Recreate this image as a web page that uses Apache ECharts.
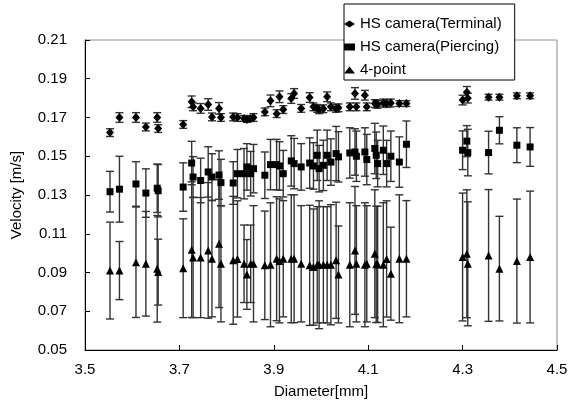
<!DOCTYPE html>
<html>
<head>
<meta charset="utf-8">
<script src="https://cdn.jsdelivr.net/npm/echarts@6/dist/echarts.min.js"></script>
<style>
html, body { margin: 0; padding: 0; background: #fff; }
#main { width: 575px; height: 405px; }
</style>
</head>
<body>
<div id="main"></div>
<script>
// diameters [mm], one entry per measured drop
var diameter = [3.553, 3.573, 3.608, 3.629, 3.653, 3.655, 3.708, 3.726, 3.729, 3.745,
  3.761, 3.769, 3.784, 3.788, 3.814, 3.823, 3.837, 3.843, 3.851, 3.857,
  3.881, 3.893, 3.906, 3.912, 3.920, 3.937, 3.943, 3.958, 3.976, 3.984,
  3.992, 3.996, 4.005, 4.013, 4.021, 4.032, 4.037, 4.061, 4.072, 4.075,
  4.093, 4.097, 4.114, 4.117, 4.120, 4.132, 4.139, 4.148, 4.166, 4.181,
  4.300, 4.309, 4.311, 4.355, 4.378, 4.415, 4.443];

// HS camera (Terminal) velocity and error
var terminal = [0.1622, 0.1700, 0.1700, 0.1651, 0.1700, 0.1643, 0.1664, 0.1781, 0.1755, 0.1747,
  0.1767, 0.1703, 0.1747, 0.1700, 0.1703, 0.1700, 0.1695, 0.1690, 0.1695, 0.1700,
  0.1729, 0.1786, 0.1720, 0.1807, 0.1741, 0.1798, 0.1824, 0.1747, 0.1803, 0.1755,
  0.1747, 0.1740, 0.1745, 0.1807, 0.1755, 0.1747, 0.1750, 0.1755, 0.1824, 0.1755,
  0.1815, 0.1755, 0.1772, 0.1770, 0.1768, 0.1775, 0.1772, 0.1775, 0.1772, 0.1772,
  0.1790, 0.1830, 0.1800, 0.1805, 0.1805, 0.1812, 0.1812];
var terminalErr = [0.0020, 0.0025, 0.0025, 0.0020, 0.0025, 0.0020, 0.0020, 0.0030, 0.0020, 0.0025,
  0.0030, 0.0020, 0.0030, 0.0020, 0.0020, 0.0020, 0.0015, 0.0015, 0.0015, 0.0020,
  0.0020, 0.0030, 0.0020, 0.0030, 0.0020, 0.0025, 0.0025, 0.0020, 0.0025, 0.0020,
  0.0020, 0.0020, 0.0020, 0.0025, 0.0020, 0.0020, 0.0020, 0.0020, 0.0030, 0.0020,
  0.0025, 0.0020, 0.0020, 0.0020, 0.0020, 0.0020, 0.0020, 0.0020, 0.0015, 0.0015,
  0.0025, 0.0030, 0.0025, 0.0015, 0.0015, 0.0015, 0.0015];

// HS camera (Piercing)
var piercing = [0.1317, 0.1330, 0.1357, 0.1310, 0.1335, 0.1322, 0.1341, 0.1465, 0.1393, 0.1375,
  0.1419, 0.1393, 0.1403, 0.1364, 0.1362, 0.1410, 0.1410, 0.1445, 0.1410, 0.1436,
  0.1402, 0.1457, 0.1457, 0.1450, 0.1410, 0.1476, 0.1462, 0.1445, 0.1465, 0.1450,
  0.1505, 0.1436, 0.1453, 0.1505, 0.1470, 0.1514, 0.1497, 0.1517, 0.1522, 0.1500,
  0.1522, 0.1483, 0.1540, 0.1505, 0.1462, 0.1531, 0.1462, 0.1500, 0.1470, 0.1562,
  0.1531, 0.1578, 0.1519, 0.1519, 0.1634, 0.1557, 0.1548];
var piercingErr = [0.0105, 0.0170, 0.0115, 0.0125, 0.0125, 0.0135, 0.0125, 0.0112, 0.0105, 0.0115,
  0.0130, 0.0120, 0.0125, 0.0120, 0.0110, 0.0125, 0.0130, 0.0120, 0.0115, 0.0125,
  0.0120, 0.0130, 0.0130, 0.0125, 0.0120, 0.0130, 0.0130, 0.0120, 0.0130, 0.0120,
  0.0130, 0.0120, 0.0130, 0.0130, 0.0120, 0.0140, 0.0130, 0.0130, 0.0120, 0.0130,
  0.0125, 0.0130, 0.0130, 0.0120, 0.0120, 0.0125, 0.0120, 0.0130, 0.0130, 0.0120,
  0.0100, 0.0080, 0.0120, 0.0110, 0.0070, 0.0090, 0.0100];

// 4-point
var fourPoint = [0.0910, 0.0910, 0.0953, 0.0945, 0.0919, 0.0902, 0.0922, 0.1018, 0.0977, 0.0977,
  0.1014, 0.0971, 0.1049, 0.0945, 0.0963, 0.0970, 0.0945, 0.0890, 0.0945, 0.0945,
  0.0937, 0.0940, 0.0971, 0.0960, 0.0971, 0.0971, 0.0971, 0.0945, 0.0937, 0.0928,
  0.0940, 0.0940, 0.0940, 0.0940, 0.0940, 0.0963, 0.0890, 0.0940, 0.1014, 0.0945,
  0.0940, 0.0945, 0.0997, 0.0942, 0.0942, 0.0940, 0.0970, 0.0894, 0.0971, 0.0971,
  0.0980, 0.0997, 0.0945, 0.0988, 0.0920, 0.0959, 0.0980];
var fourPointErr = [0.0250, 0.0150, 0.0285, 0.0270, 0.0275, 0.0170, 0.0255, 0.0350, 0.0310, 0.0310,
  0.0350, 0.0300, 0.0330, 0.0300, 0.0330, 0.0300, 0.0200, 0.0180, 0.0200, 0.0300,
  0.0280, 0.0320, 0.0320, 0.0320, 0.0300, 0.0330, 0.0330, 0.0300, 0.0310, 0.0300,
  0.0300, 0.0330, 0.0300, 0.0300, 0.0310, 0.0300, 0.0250, 0.0320, 0.0330, 0.0300,
  0.0320, 0.0300, 0.0330, 0.0300, 0.0300, 0.0320, 0.0300, 0.0240, 0.0330, 0.0300,
  0.0330, 0.0330, 0.0320, 0.0340, 0.0270, 0.0320, 0.0340];

var seriesNames = ['HS camera(Terminal)', 'HS camera(Piercing)', '4-point'];

var font = 'Liberation Sans, Arial, sans-serif';

// pairs [x, y]
function points(vals) {
  return diameter.map(function (d, i) { return [d, vals[i]]; });
}

// vertical error bar with caps
function errorBars(vals, errs) {
  return {
    type: 'custom',
    silent: true,
    z: 2,
    renderItem: function (params, api) {
      var x = api.value(0);
      var top = api.coord([x, api.value(2)]);
      var bot = api.coord([x, api.value(1)]);
      var w = 4;
      var st = { stroke: '#333', lineWidth: 1.4 };
      return {
        type: 'group',
        children: [
          { type: 'line', shape: { x1: top[0], y1: top[1], x2: bot[0], y2: bot[1] }, style: st },
          { type: 'line', shape: { x1: top[0] - w, y1: top[1], x2: top[0] + w, y2: top[1] }, style: st },
          { type: 'line', shape: { x1: bot[0] - w, y1: bot[1], x2: bot[0] + w, y2: bot[1] }, style: st }
        ]
      };
    },
    encode: { x: 0, y: [1, 2] },
    data: diameter.map(function (d, i) { return [d, vals[i] - errs[i], vals[i] + errs[i]]; })
  };
}

var myChart = echarts.init(document.getElementById('main'));

var option = {
  animation: false,
  backgroundColor: '#fff',
  grid: {
    left: 85, right: 18, top: 40, bottom: 55,
    show: true, borderColor: '#8c8c8c', borderWidth: 1
  },
  legend: {
    orient: 'vertical',
    left: 344, top: 4,
    padding: [12, 13, 2, 0],
    itemGap: 7,
    itemWidth: 11, itemHeight: 7,
    backgroundColor: '#fff',
    borderColor: '#000', borderWidth: 1,
    textStyle: { fontFamily: font, fontSize: 15, color: '#000', lineHeight: 16 },
    data: [
      { name: seriesNames[0], icon: 'diamond' },
      { name: seriesNames[1], icon: 'rect' },
      { name: seriesNames[2], icon: 'triangle' }
    ]
  },
  xAxis: {
    type: 'value',
    min: 3.5, max: 4.5, interval: 0.2,
    name: 'Diameter[mm]',
    nameLocation: 'middle', nameGap: 34,
    nameTextStyle: { fontFamily: font, fontSize: 15, color: '#000' },
    axisLine: { lineStyle: { color: '#000', width: 1 } },
    axisTick: { inside: true, length: 5, lineStyle: { color: '#000' } },
    axisLabel: { fontFamily: font, fontSize: 15, color: '#000', margin: 12,
      formatter: function (v) { return v.toFixed(1); } },
    splitLine: { show: false }
  },
  yAxis: {
    type: 'value',
    min: 0.05, max: 0.21, interval: 0.02,
    name: 'Velocity [m/s]',
    nameLocation: 'middle', nameGap: 61,
    nameTextStyle: { fontFamily: font, fontSize: 15, color: '#000' },
    axisLine: { show: true, lineStyle: { color: '#000', width: 1 } },
    axisTick: { show: true, inside: true, length: 5, lineStyle: { color: '#000' } },
    axisLabel: { fontFamily: font, fontSize: 15, color: '#000', margin: 18,
      formatter: function (v) { return v.toFixed(2); } },
    splitLine: { show: false }
  },
  series: [
    errorBars(fourPoint, fourPointErr),
    errorBars(piercing, piercingErr),
    errorBars(terminal, terminalErr),
    {
      name: seriesNames[2], type: 'scatter', symbol: 'triangle', symbolSize: 8,
      itemStyle: { color: '#000', opacity: 1 }, z: 3, data: points(fourPoint)
    },
    {
      name: seriesNames[1], type: 'scatter', symbol: 'rect', symbolSize: 7,
      itemStyle: { color: '#000', opacity: 1 }, z: 3, data: points(piercing)
    },
    {
      name: seriesNames[0], type: 'scatter', symbol: 'diamond', symbolSize: [8, 9],
      itemStyle: { color: '#000', opacity: 1 }, z: 3, data: points(terminal)
    }
  ]
};

myChart.setOption(option);
</script>
</body>
</html>
